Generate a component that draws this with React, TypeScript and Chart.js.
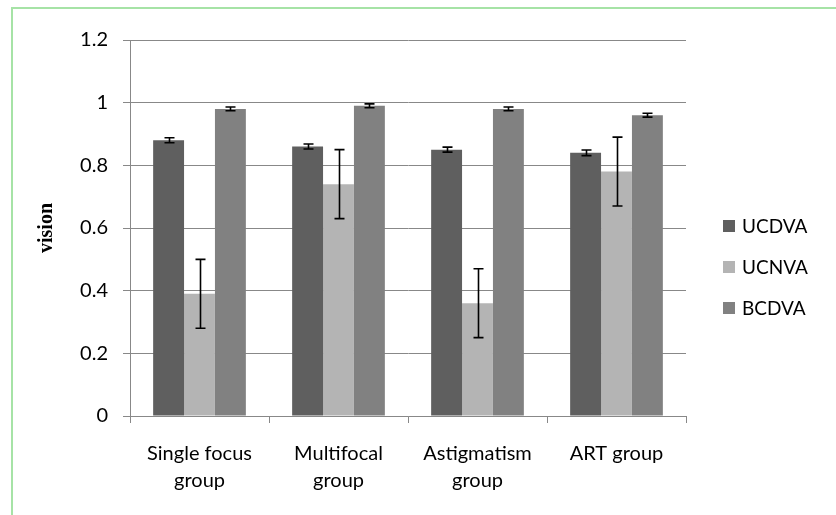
import { useEffect, useRef } from "react";
import { Chart, registerables } from "chart.js";

Chart.register(...registerables);

const categories = [["Single focus", "group"], ["Multifocal", "group"], ["Astigmatism", "group"], ["ART group"]];
const seriesNames = ["UCDVA", "UCNVA", "BCDVA"];
const ucdva = [0.88, 0.86, 0.85, 0.84];
const ucnva = [0.39, 0.74, 0.36, 0.78];
const bcdva = [0.98, 0.99, 0.98, 0.96];
const ucdvaErr = [0.008, 0.008, 0.008, 0.009];
const ucnvaErr = [0.11, 0.11, 0.11, 0.11];
const bcdvaErr = [0.006, 0.006, 0.006, 0.006];
const yTicks = [0, 0.2, 0.4, 0.6, 0.8, 1, 1.2];
const seriesColors = ["#5f5f5f", "#b4b4b4", "#818181"];
const FONT = "Lato, 'Open Sans', sans-serif";

const errors = [ucdvaErr, ucnvaErr, bcdvaErr];

const errorBarPlugin = {
  id: "errorBars",
  afterDatasetsDraw(chart: any) {
    const ctx = chart.ctx;
    const y = chart.scales.y;
    ctx.save();
    ctx.strokeStyle = "#000";
    ctx.lineWidth = 1.6;
    chart.data.datasets.forEach((ds: any, i: number) => {
      const meta = chart.getDatasetMeta(i);
      meta.data.forEach((el: any, j: number) => {
        const v = ds.data[j];
        const e = errors[i][j];
        const top = y.getPixelForValue(v + e);
        const bot = y.getPixelForValue(v - e);
        const x = Math.round(el.x) + 0.5;
        ctx.beginPath();
        ctx.moveTo(x, top);
        ctx.lineTo(x, bot);
        ctx.moveTo(x - 5, top);
        ctx.lineTo(x + 5, top);
        ctx.moveTo(x - 5, bot);
        ctx.lineTo(x + 5, bot);
        ctx.stroke();
      });
    });
    ctx.restore();
  },
};

const legendPlugin = {
  id: "customLegend",
  afterDraw(chart: any) {
    const ctx = chart.ctx;
    ctx.save();
    ctx.font = `19px ${FONT}`;
    ctx.textBaseline = "middle";
    chart.data.datasets.forEach((ds: any, i: number) => {
      const cy = 226 + i * 41;
      ctx.fillStyle = ds.backgroundColor;
      ctx.fillRect(723, cy - 6, 12, 12);
      ctx.fillStyle = "#000";
      ctx.fillText(ds.label, 742, cy + 1);
    });
    ctx.restore();
  },
};

export default function App() {
  const ref = useRef<HTMLCanvasElement | null>(null);
  useEffect(() => {
    if (!ref.current) return;
    const chart = new Chart(ref.current, {
      type: "bar",
      data: {
        labels: categories as any,
        datasets: [ucdva, ucnva, bcdva].map((d, i) => ({
          label: seriesNames[i],
          data: d,
          backgroundColor: seriesColors[i],
          borderWidth: 0,
          categoryPercentage: 0.667,
          barPercentage: 1,
        })),
      },
      options: {
        animation: false,
        responsive: false,
        maintainAspectRatio: false,
        layout: { padding: { left: 31, top: 40, right: 150, bottom: 0 } },
        plugins: { legend: { display: false }, tooltip: { enabled: false } },
        scales: {
          x: {
            offset: true,
            grid: { offset: true, drawOnChartArea: false, drawTicks: true, tickLength: 7, color: "#888", lineWidth: 1 },
            border: { color: "#888", width: 1 },
            ticks: { color: "#000", font: { family: FONT, size: 20, lineHeight: "27px" } as any, padding: 17, maxRotation: 0, autoSkip: false },
            afterFit(scale: any) { scale.height = 99; },
          },
          y: {
            min: 0,
            max: 1.2,
            afterBuildTicks(scale: any) { scale.ticks = yTicks.map((v) => ({ value: v })); },
            grid: { color: "#888", lineWidth: 1, drawTicks: true, tickLength: 7 },
            border: { color: "#888", width: 1 },
            ticks: { color: "#000", font: { family: FONT, size: 20 }, padding: 15, callback: (v: any) => String(v) },
            title: { display: true, text: "vision", color: "#000", font: { family: "'Liberation Serif', 'DejaVu Serif', serif", size: 20, weight: "bold" }, padding: 4 },
            afterFit(scale: any) { scale.width = 99; },
          },
        },
      },
      plugins: [errorBarPlugin, legendPlugin],
    });
    return () => chart.destroy();
  }, []);
  return (
    <div style={{ position: "absolute", left: 0, top: 0, width: 836, height: 515, background: "#fff", overflow: "hidden" }}>
      <canvas ref={ref} width={836} height={515} style={{ position: "absolute", left: 0, top: 0, width: 836, height: 515 }} />
      <div style={{ position: "absolute", left: 11, top: 7, width: 900, height: 600, borderTop: "2px solid #a6e3a6", borderLeft: "2px solid #a6e3a6", pointerEvents: "none" }} />
    </div>
  );
}
